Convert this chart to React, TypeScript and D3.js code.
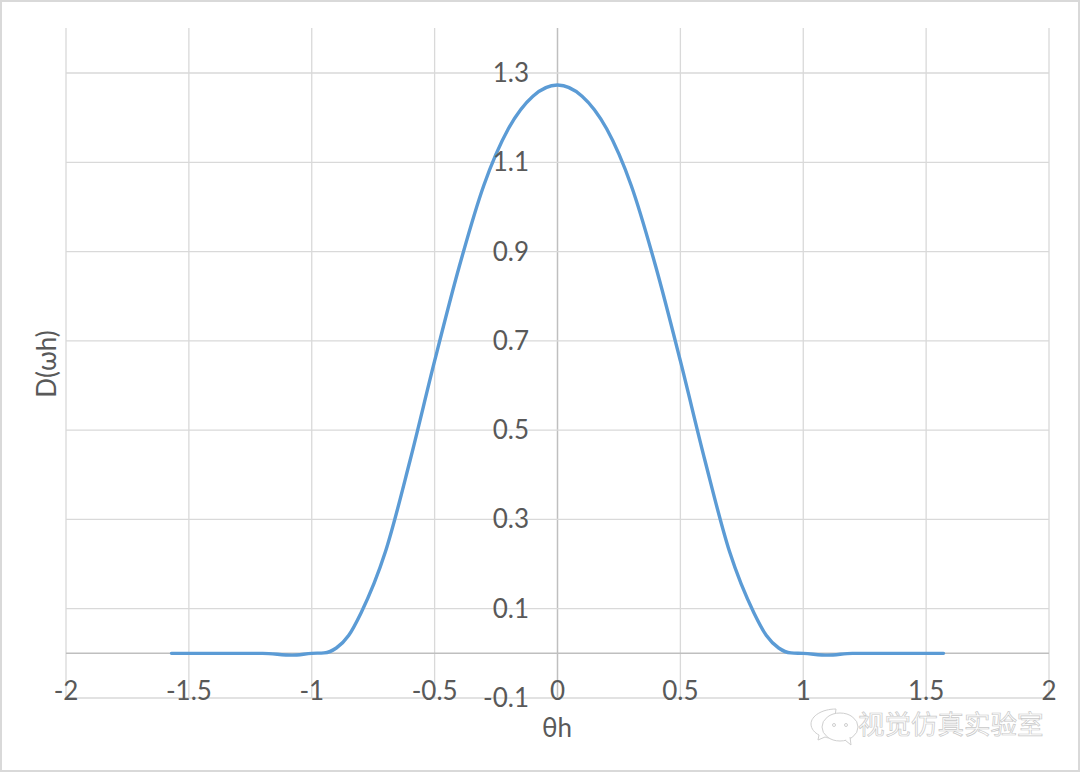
import React from "react";
import * as d3 from "d3";

const W = 1080;
const H = 772;

const xTicks = [-2, -1.5, -1, -0.5, 0, 0.5, 1, 1.5, 2];
const yTicks = [1.3, 1.1, 0.9, 0.7, 0.5, 0.3, 0.1, -0.1];

const thetaValues = [
  -1.5708, -1.4, -1.2, -1.08, -1.0, -0.95, -0.9, -0.85, -0.8, -0.7, -0.6, -0.5, -0.4, -0.3, -0.2, -0.1,
  0, 0.1, 0.2, 0.3, 0.4, 0.5, 0.6, 0.7, 0.8, 0.85, 0.9, 0.95, 1.0, 1.1, 1.2, 1.4, 1.5708,
];
const dValues = [
  0, 0, 0, -0.004, 0, 0.001, 0.012, 0.04, 0.09, 0.228, 0.432, 0.655, 0.866, 1.048, 1.175, 1.248,
  1.273, 1.248, 1.175, 1.048, 0.866, 0.655, 0.432, 0.228, 0.09, 0.04, 0.012, 0.001, 0, -0.004, 0, 0, 0,
];

const x = d3.scaleLinear().domain([-2, 2]).range([66, 1049]);
const y = d3.scaleLinear().domain([-0.1, 1.3]).range([698, 73]);

const line = d3
  .line<number>()
  .x((d) => x(d))
  .y((_, i) => y(dValues[i]))
  .curve(d3.curveMonotoneX);

const font = "Lato, 'Open Sans', sans-serif";
const textColor = "#595959";

export default function App() {
  return (
    <svg
      width={W}
      height={H}
      style={{ position: "absolute", left: 0, top: 0, display: "block", background: "#fff" }}
    >
      <rect x={1} y={1} width={W - 2} height={H - 2} fill="#fff" stroke="#d9d9d9" strokeWidth={2} />

      {/* grid */}
      {xTicks.map((t) => (
        <line
          key={t}
          x1={x(t)}
          x2={x(t)}
          y1={28}
          y2={698}
          stroke={t === 0 ? "#bfbfbf" : "#d9d9d9"}
          strokeWidth={t === 0 ? 1.5 : 1.3}
        />
      ))}
      {yTicks.map((t) => (
        <line key={t} x1={66} x2={1049} y1={y(t)} y2={y(t)} stroke="#d9d9d9" strokeWidth={1.3} />
      ))}
      <line x1={66} x2={1049} y1={y(0)} y2={y(0)} stroke="#bfbfbf" strokeWidth={1.5} />

      <path
        d={line(thetaValues) ?? ""}
        fill="none"
        stroke="#5b9bd5"
        strokeWidth={3.4}
        strokeLinecap="round"
      />

      {/* tick labels */}
      <g fontFamily={font} fontSize={26} fill={textColor}>
        {xTicks.map((t) => (
          <text key={t} x={x(t)} y={700} textAnchor="middle">
            {t}
          </text>
        ))}
        {yTicks.map((t) => (
          <text key={t} x={529} y={y(t) + 9} textAnchor="end">
            {t}
          </text>
        ))}
        <text x={557} y={737} textAnchor="middle">
          θh
        </text>
        <text transform="translate(56,364) rotate(-90)" textAnchor="middle">
          D(ωh)
        </text>
      </g>

      {/* watermark */}
      <g fill="#fff" stroke="#cfcfcf" strokeWidth={1}>
        <path d="M 836 709 C 822 709 811 716 811 724 C 811 729 815 733 819 735 L 818 740 L 825 737 C 827 738 830 738 832 738 Z" />
        <ellipse cx={840} cy={727} rx={18} ry={14} />
        <path d="M 845 740 L 851 745 L 850 737" />
        <circle cx={834} cy={725} r={1.5} />
        <circle cx={846} cy={725} r={1.5} />
      </g>
      <text
        x={858}
        y={734}
        fontFamily="'Noto Sans CJK SC', sans-serif"
        fontSize={26.5}
        fill="#fff"
        stroke="#c8c8c8"
        strokeWidth={0.7}
      >
        视觉仿真实验室
      </text>
    </svg>
  );
}
